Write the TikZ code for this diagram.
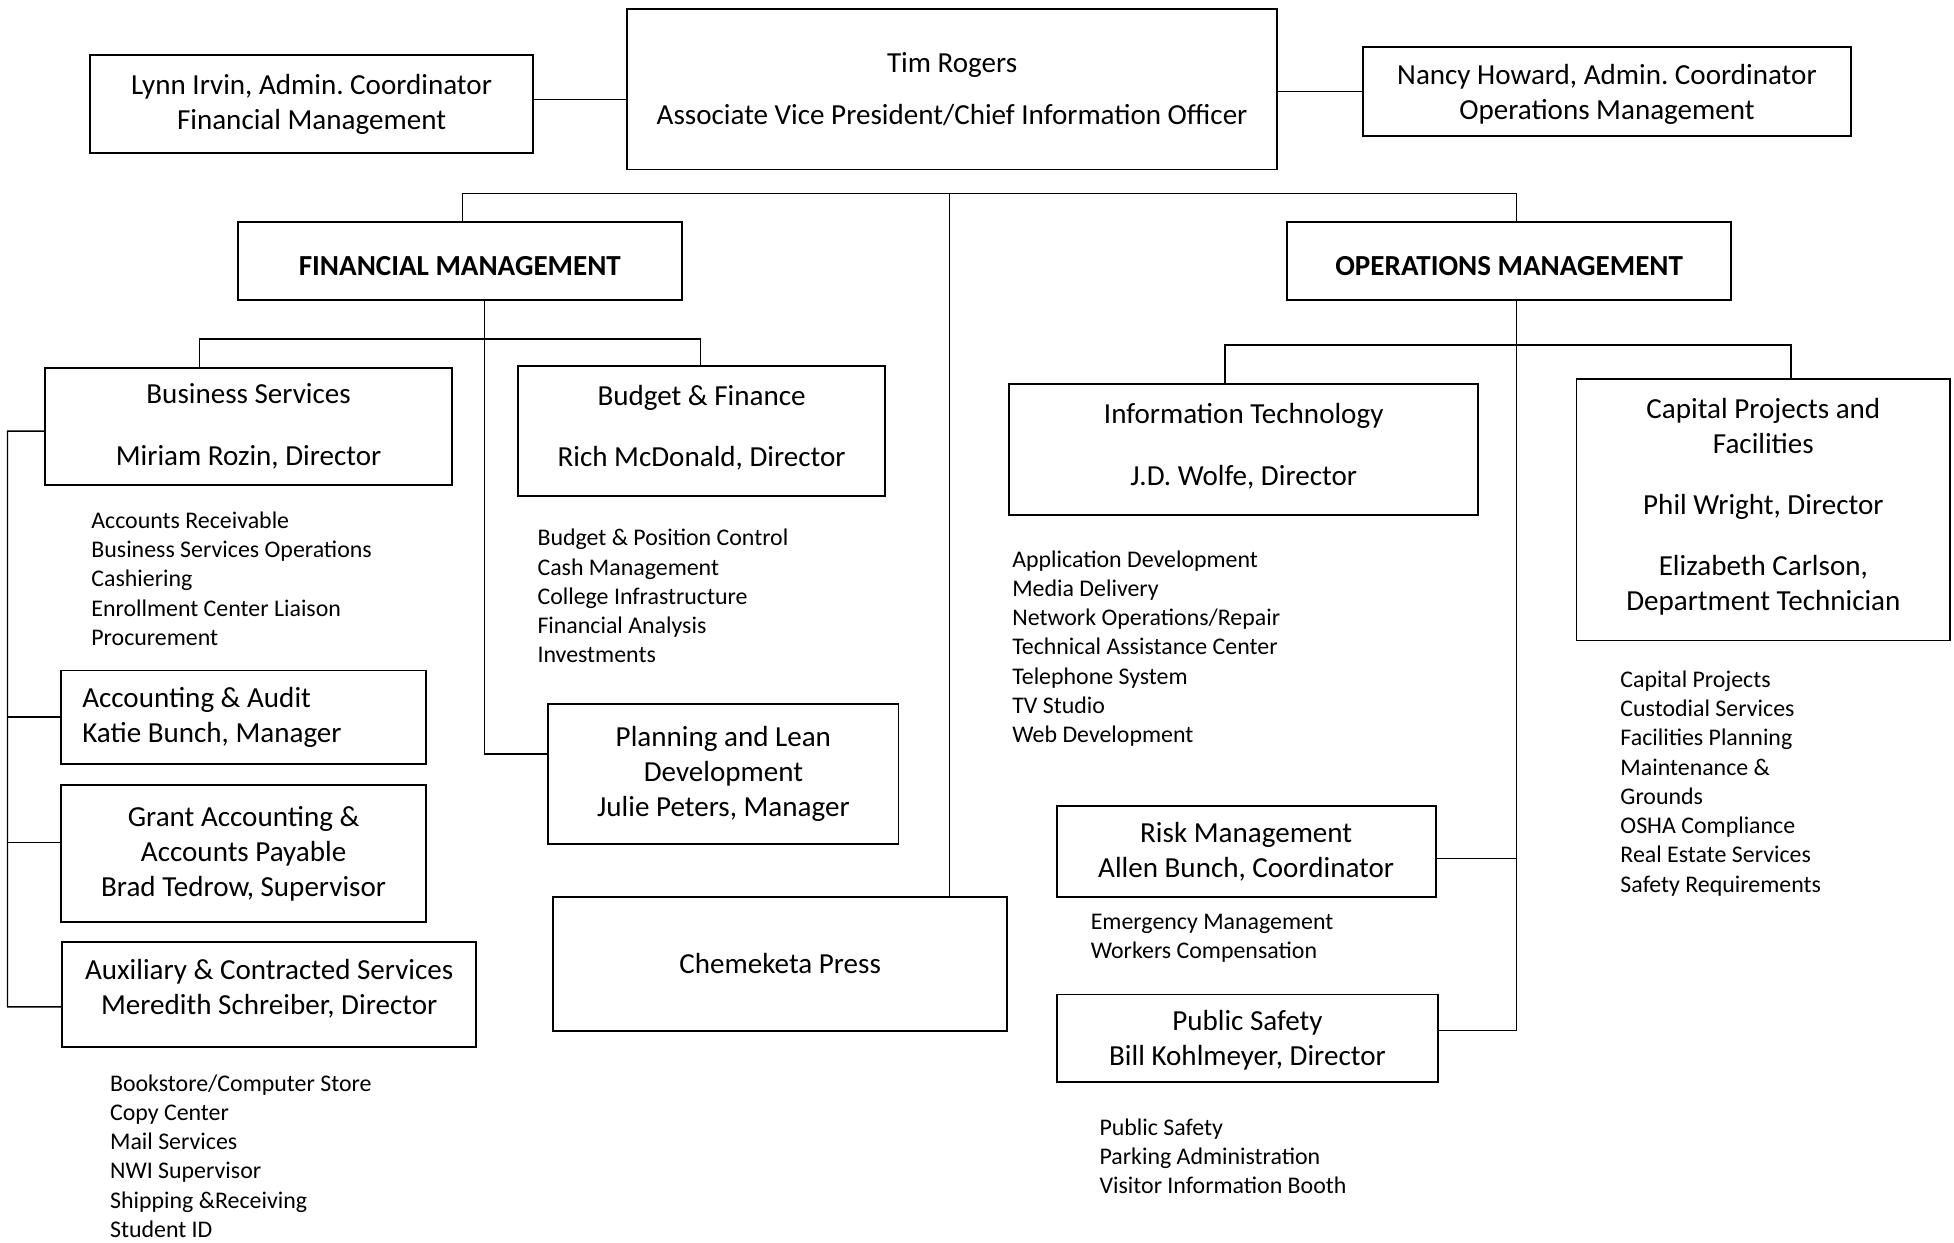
\documentclass[tikz,border=0pt]{standalone}
\usepackage{fontspec}
\setmainfont{Carlito}
\usepackage{tikz}
\usetikzlibrary{positioning}
\frenchspacing

\newcommand{\boxfont}{\fontsize{14}{16.8}\selectfont}
\newcommand{\dutyfont}{\fontsize{11.5}{14.1}\selectfont}

\tikzset{
  box/.style={draw, rectangle, line width=0.9pt, align=center, inner sep=2pt, font=\boxfont},
  head/.style={box, font=\boxfont\bfseries, text height=14pt, text depth=0pt},
  duties/.style={align=left, anchor=base west, inner sep=0pt, font=\dutyfont},
  link/.style={line width=0.7pt}
}

\begin{document}
\begin{tikzpicture}[x=0.6pt, y=-0.6pt]
    \useasboundingbox (0,0) rectangle (1568,997);

    \node[box, minimum width=313.2pt, minimum height=77.4pt] (tim) at (764,71.5) {Tim Rogers\\[8.4pt]Associate Vice President/Chief Information Officer};
    \node[box, minimum width=213.6pt, minimum height=47.4pt] (lynn) at (250,83.5) {Lynn Irvin, Admin. Coordinator\\Financial Management};
    \node[box, minimum width=234.6pt, minimum height=42.6pt, text depth=0pt] (nancy) at (1289.5,73.5) {Nancy Howard, Admin. Coordinator\\Operations Management};

    \node[head, minimum width=213.6pt, minimum height=37.8pt] (fm) at (369,209.5) {FINANCIAL MANAGEMENT};
    \node[head, minimum width=213.6pt, minimum height=37.8pt] (om) at (1211,209.5) {OPERATIONS MANAGEMENT};

    \node[box, minimum width=196.2pt, minimum height=56.4pt] (bs) at (199.5,342) {Business Services\\[13.2pt]Miriam Rozin, Director};
    \node[box, minimum width=176.4pt, minimum height=62.4pt, text depth=5pt] (bf) at (563,346) {Budget \& Finance\\[12.6pt]Rich McDonald, Director};
    \node[box, align=flush left, inner xsep=10.2pt, text width=155.4pt, minimum height=45pt] (acc) at (195.5,575.5) {Accounting \& Audit\\Katie Bunch, Manager};
    \node[box, minimum width=175.8pt, minimum height=66pt] (grant) at (195.5,685) {Grant Accounting \&\\Accounts Payable\\Brad Tedrow, Supervisor};
    \node[box, minimum width=199.2pt, minimum height=50.4pt, text depth=7pt] (aux) at (216,798) {Auxiliary \& Contracted Services\\Meredith Schreiber, Director};
    \node[box, minimum width=168.6pt, minimum height=67.2pt] (plan) at (580.5,621) {Planning and Lean\\Development\\Julie Peters, Manager};
    \node[box, minimum width=218.4pt, minimum height=64.2pt] (press) at (626,773.5) {Chemeketa Press};

    \node[box, minimum width=225.6pt, minimum height=63pt, text depth=5pt] (it) at (998,360.5) {Information Technology\\[13.2pt]J.D. Wolfe, Director};
    \node[box, minimum width=180pt, minimum height=126pt, text depth=5pt] (cap) at (1415,409) {Capital Projects and\\Facilities\\[12.6pt]Phil Wright, Director\\[12.6pt]Elizabeth Carlson,\\Department Technician};
    \node[box, minimum width=182.4pt, minimum height=43.8pt] (risk) at (1000,683.5) {Risk Management\\Allen Bunch, Coordinator};
    \node[box, minimum width=183.6pt, minimum height=42pt, text depth=0pt] (ps) at (1001,833) {Public Safety\\Bill Kohlmeyer, Director};

    \node[duties] (bslist) at (73,518) {Accounts Receivable\\Business Services Operations\\Cashiering\\Enrollment Center Liaison\\Procurement};
    \node[duties] (bflist) at (431,532) {Budget \& Position Control\\Cash Management\\College Infrastructure\\Financial Analysis\\Investments};
    \node[duties] (auxlist) at (88,993) {Bookstore/Computer Store\\Copy Center\\Mail Services\\NWI Supervisor\\Shipping \&Receiving\\Student ID};
    \node[duties] (itlist) at (812,596) {Application Development\\Media Delivery\\Network Operations/Repair\\Technical Assistance Center\\Telephone System\\TV Studio\\Web Development};
    \node[duties] (caplist) at (1300,716) {Capital Projects\\Custodial Services\\Facilities Planning\\Maintenance \&\\Grounds\\OSHA Compliance\\Real Estate Services\\Safety Requirements};
    \node[duties] (risklist) at (875,769) {Emergency Management\\Workers Compensation};
    \node[duties] (pslist) at (882,958) {Public Safety\\Parking Administration\\Visitor Information Booth};

    \coordinate (busmid) at (762,156);
    \coordinate (fmbusL) at (160,272);
    \coordinate (fmbusR) at (562,272);
    \coordinate (ombusL) at (983,277);
    \coordinate (ombusR) at (1437,277);
    \coordinate (spine) at (6,346);
    \coordinate (omstem) at ([xshift=3.6pt]om.south);

    \draw[link] ([yshift=2.1pt]lynn.east) -- ([yshift=2.1pt]lynn.east -| tim.west);
    \draw[link] (nancy.west) -- (nancy.west -| tim.east);

    \draw[link] ([xshift=1.2pt]fm.north) -- ++(0,-22) -| ([xshift=3.6pt]om.north);
    \draw[link] (busmid) -- (busmid |- press.north);

    \draw[link] (fmbusL |- bs.north) -- (fmbusL) -- (fmbusR) -- (fmbusR |- bf.north);
    \draw[link] ([xshift=12pt]fm.south) |- ([yshift=9.6pt]plan.west);

    \draw[link] ([yshift=-2.4pt]bs.west) -- (spine) |- ([yshift=-6pt]aux.west);
    \draw[link] (acc.west) -- (acc.west -| spine);
    \draw[link] ([yshift=5.4pt]grant.west) -- ([yshift=5.4pt]grant.west -| spine);

    \draw[link] (ombusL |- it.north) -- (ombusL) -- (ombusR) -- (ombusR |- cap.north);
    \draw[link] (omstem) |- ([yshift=3.6pt]ps.east);
    \draw[link] ([yshift=-3.3pt]risk.east) -- ([yshift=-3.3pt]risk.east -| omstem);
\end{tikzpicture}
\end{document}
